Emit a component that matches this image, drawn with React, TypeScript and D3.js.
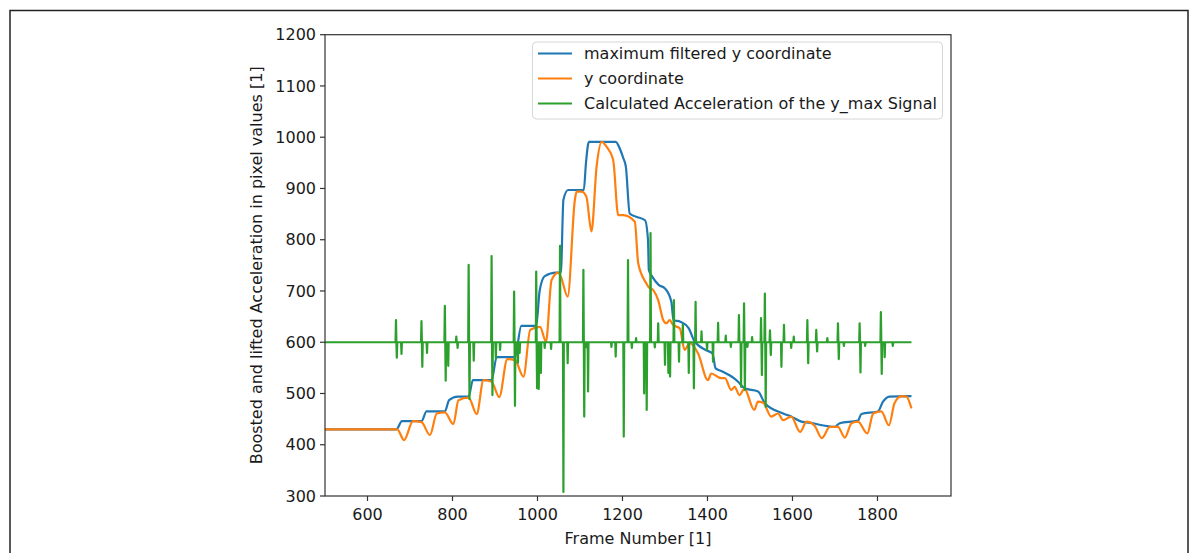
import React from 'react';
import * as d3 from 'd3';

// maximum filtered y coordinate
const blueFrames = [500, 668, 681, 727, 739, 782, 792, 812, 838, 848, 892, 904, 947, 962, 997, 1005, 1017, 1044, 1055, 1061, 1072, 1109, 1114, 1121, 1184, 1195, 1202, 1208, 1217, 1232, 1253, 1260, 1262, 1270, 1285, 1300, 1315, 1320, 1336, 1356, 1368, 1395, 1412, 1419, 1435, 1462, 1472, 1487, 1519, 1535, 1578, 1597, 1621, 1648, 1664, 1699, 1711, 1754, 1762, 1801, 1813, 1828, 1880];
const blueValues = [430, 430, 446, 446, 465, 465, 487, 494, 494, 526, 526, 571, 571, 632, 632, 700, 729, 736, 736, 878, 897, 897, 949, 991, 991, 975, 959, 942, 851, 845, 838, 800, 741, 728, 712, 705, 679, 643, 640, 627, 604, 585, 578, 549, 543, 530, 523, 510, 504, 481, 461, 455, 445, 442, 439, 435, 442, 447, 460, 465, 484, 494, 495];

// y coordinate
const orangeFrames = [500, 670, 686, 707, 727, 747, 763, 782, 802, 814, 838, 857, 873, 892, 910, 929, 947, 967, 983, 1006, 1020, 1033, 1049, 1055, 1071, 1088, 1092, 1104, 1115, 1127, 1139, 1151, 1162, 1178, 1190, 1202, 1229, 1237, 1256, 1261, 1272, 1284, 1296, 1303, 1311, 1319, 1335, 1346, 1358, 1378, 1401, 1409, 1432, 1441, 1456, 1464, 1475, 1487, 1510, 1519, 1531, 1550, 1566, 1578, 1597, 1618, 1633, 1652, 1669, 1688, 1707, 1723, 1739, 1754, 1776, 1790, 1809, 1827, 1840, 1856, 1868, 1880];
const orangeValues = [430, 430, 409, 446, 444, 419, 461, 463, 440, 487, 492, 460, 526, 523, 493, 567, 565, 533, 624, 630, 601, 721, 736, 728, 689, 878, 894, 894, 884, 816, 942, 991, 982, 956, 848, 848, 835, 754, 715, 708, 702, 682, 643, 637, 643, 634, 627, 585, 598, 578, 526, 539, 530, 530, 507, 513, 497, 509, 468, 484, 482, 455, 461, 448, 455, 425, 445, 437, 413, 435, 435, 414, 442, 445, 422, 461, 465, 438, 481, 495, 494, 471];

// acceleration spikes around the lifted baseline
const accBase = 600;
const accStart = 500;
const accEnd = 1880;
const accFrames = [667, 669, 680, 727, 729, 740, 782, 784, 790, 809, 812, 838, 840, 850, 892, 894, 902, 912, 945, 947, 954, 958, 997, 999, 1003, 1008, 1017, 1032, 1053, 1061, 1071, 1108, 1110, 1116, 1119, 1174, 1184, 1203, 1213, 1222, 1232, 1251, 1257, 1266, 1276, 1284, 1300, 1308, 1312, 1321, 1333, 1342, 1356, 1368, 1372, 1386, 1399, 1413, 1425, 1443, 1455, 1474, 1479, 1486, 1488, 1494, 1505, 1526, 1528, 1535, 1537, 1547, 1549, 1574, 1580, 1597, 1603, 1635, 1637, 1656, 1658, 1682, 1707, 1709, 1721, 1758, 1760, 1771, 1808, 1810, 1817, 1836];
const accValues = [643, 570, 577, 641, 552, 579, 671, 525, 554, 611, 589, 751, 489, 564, 768, 497, 569, 585, 699, 476, 560, 579, 738, 510, 509, 540, 589, 587, 788, 308, 559, 741, 455, 590, 504, 591, 572, 416, 760, 589, 608, 500, 468, 813, 590, 637, 556, 540, 533, 682, 562, 634, 540, 510, 679, 621, 585, 562, 638, 613, 591, 653, 513, 676, 507, 591, 610, 647, 536, 695, 474, 623, 575, 552, 634, 589, 611, 643, 559, 624, 582, 608, 637, 567, 593, 637, 541, 593, 659, 538, 571, 593];

const xTicks = [600, 800, 1000, 1200, 1400, 1600, 1800];
const yTicks = [300, 400, 500, 600, 700, 800, 900, 1000, 1100, 1200];

const legendItems = [
  {label: 'maximum filtered y coordinate', color: '#1f77b4'},
  {label: 'y coordinate', color: '#ff7f0e'},
  {label: 'Calculated Acceleration of the y_max Signal', color: '#2ca02c'},
];

const W = 1196;
const H = 553;
const left = 325;
const right = 951;
const top = 34.7;
const bottom = 496;
const font = 'DejaVu Sans, sans-serif';
const fs = 16;

export default function App() {
  const x = d3.scaleLinear().domain([500, 1973]).range([left, right]);
  const y = d3.scaleLinear().domain([300, 1200]).range([bottom, top]);

  const line = d3
    .line<[number, number]>()
    .x((d) => x(d[0]))
    .y((d) => y(d[1]));
  const smooth = d3
    .line<[number, number]>()
    .curve(d3.curveMonotoneX)
    .x((d) => x(d[0]))
    .y((d) => y(d[1]));

  const bluePts = blueFrames.map((f, i) => [f, blueValues[i]] as [number, number]);
  const orangePts = orangeFrames.map((f, i) => [f, orangeValues[i]] as [number, number]);

  // baseline with a spike at each listed frame
  const accPts: [number, number][] = [[accStart, accBase]];
  accFrames.forEach((f, i) => {
    accPts.push([f - 1, accBase], [f, accValues[i]], [f + 1, accBase]);
  });
  accPts.push([accEnd, accBase]);

  return (
    <svg
      width={W}
      height={H}
      style={{position: 'absolute', left: 0, top: 0, background: '#fff'}}
      fontFamily={font}
    >
      <rect x={10} y={10.5} width={1178} height={600} fill="none" stroke="#222" strokeWidth={1.5} />

      <defs>
        <clipPath id="plot">
          <rect x={left} y={top} width={right - left} height={bottom - top} />
        </clipPath>
      </defs>

      <g clipPath="url(#plot)" fill="none" strokeWidth={2.2} strokeLinejoin="round">
        <path d={smooth(bluePts) || ''} stroke="#1f77b4" />
        <path d={smooth(orangePts) || ''} stroke="#ff7f0e" />
        <path d={line(accPts) || ''} stroke="#2ca02c" />
      </g>

      {/* spines */}
      <rect x={left} y={top} width={right - left} height={bottom - top} fill="none" stroke="#333" strokeWidth={1.2} />

      {/* x axis */}
      {xTicks.map((t) => (
        <g key={'x' + t} transform={`translate(${x(t)},${bottom})`}>
          <line y1={0} y2={5} stroke="#333" strokeWidth={1.2} />
          <text y={24} textAnchor="middle" fontSize={fs} fill="#1a1a1a">
            {t}
          </text>
        </g>
      ))}
      <text x={(left + right) / 2} y={544} textAnchor="middle" fontSize={fs} fill="#1a1a1a">
        Frame Number [1]
      </text>

      {/* y axis */}
      {yTicks.map((t) => (
        <g key={'y' + t} transform={`translate(${left},${y(t)})`}>
          <line x1={0} x2={-5} stroke="#333" strokeWidth={1.2} />
          <text x={-9} dy="0.35em" textAnchor="end" fontSize={fs} fill="#1a1a1a">
            {t}
          </text>
        </g>
      ))}
      <text
        transform={`translate(262,${(top + bottom) / 2}) rotate(-90)`}
        textAnchor="middle"
        fontSize={fs}
        fill="#1a1a1a"
      >
        Boosted and lifted Acceleration in pixel values [1]
      </text>

      {/* legend */}
      <rect x={532.5} y={42} width={410} height={77} rx={4} fill="#fff" fillOpacity={0.8} stroke="#d6d6d6" strokeWidth={1} />
      {legendItems.map((item, i) => (
        <g key={item.label} transform={`translate(538,${53.5 + i * 25})`}>
          <line x1={0} x2={34} stroke={item.color} strokeWidth={2.2} />
          <text x={46} dy="0.35em" fontSize={fs} fill="#1a1a1a">
            {item.label}
          </text>
        </g>
      ))}
    </svg>
  );
}
